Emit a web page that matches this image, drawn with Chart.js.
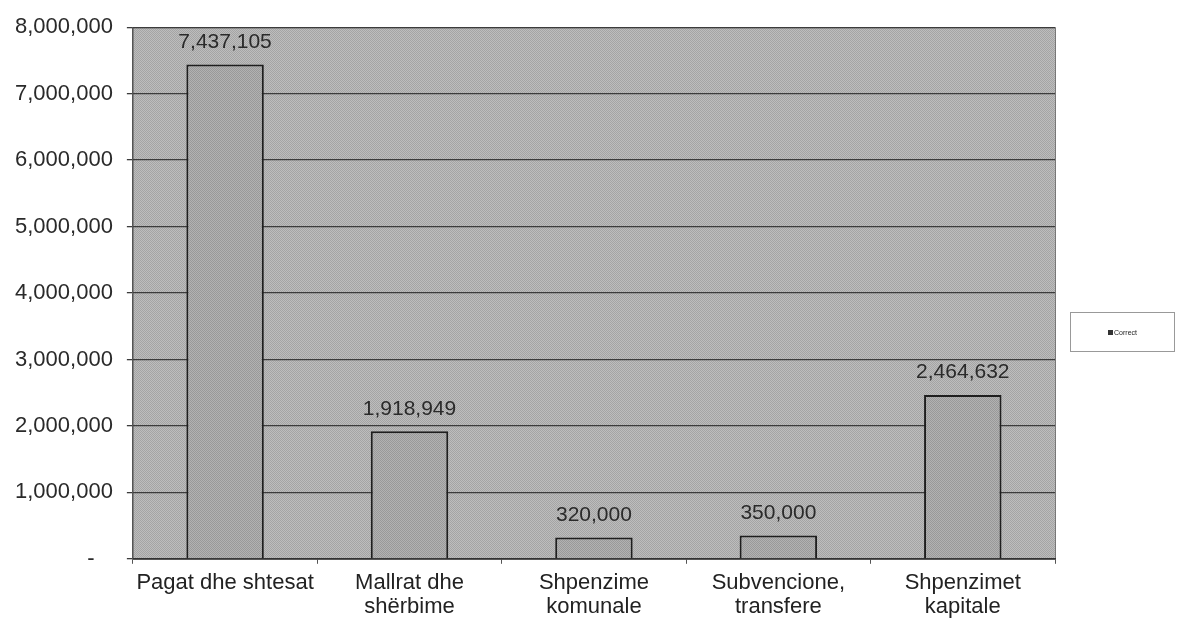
<!DOCTYPE html>
<html>
<head>
<meta charset="utf-8">
<script src="https://cdn.jsdelivr.net/npm/chart.js@4/dist/chart.umd.min.js"></script>
<style>
  body { margin: 0; background: #fff; }
  #wrap { position: relative; width: 1177px; height: 631px; }
  #legend {
    position: absolute; left: 1070px; top: 312px; width: 105px; height: 40px;
    border: 1px solid #999; box-sizing: border-box;
    font: 7px "Liberation Sans", Arial, sans-serif; color: #222;
    display: flex; align-items: center; justify-content: center;
  }
  #legend span.sw { display: inline-block; width: 5px; height: 5px; background: #333; margin-right: 1px; }
</style>
</head>
<body>
<div id="wrap">
  <canvas id="chart" width="1177" height="631"></canvas>
  <div id="legend"><span class="sw"></span>Correct</div>
</div>
<script>
const categories = [
  "Pagat dhe shtesat",
  ["Mallrat dhe", "shërbime"],
  ["Shpenzime", "komunale"],
  ["Subvencione,", "transfere"],
  ["Shpenzimet", "kapitale"]
];
const seriesName = "Correct";
const values = [7437105, 1918949, 320000, 350000, 2464632];
const yTicks = [0, 1000000, 2000000, 3000000, 4000000, 5000000, 6000000, 7000000, 8000000];

const fontFamily = "'Liberation Sans', Arial, sans-serif";

function makePattern(a, b) {
  const c = document.createElement("canvas");
  c.width = 2; c.height = 2;
  const g = c.getContext("2d");
  g.fillStyle = a; g.fillRect(0, 0, 2, 2);
  g.fillStyle = b; g.fillRect(0, 0, 1, 1); g.fillRect(1, 1, 1, 1);
  return document.getElementById("chart").getContext("2d").createPattern(c, "repeat");
}

const plotPattern = makePattern("#bdbdbd", "#a4a4a4");
const barPattern = makePattern("#b2b2b2", "#999999");

const plotBackground = {
  id: "plotBackground",
  beforeDraw(chart) {
    const { ctx, chartArea: a } = chart;
    ctx.save();
    ctx.fillStyle = plotPattern;
    ctx.fillRect(a.left, a.top, a.right - a.left, a.bottom - a.top);
    ctx.strokeStyle = "#777";
    ctx.lineWidth = 1;
    ctx.strokeRect(a.left + 0.5, a.top + 0.5, a.right - a.left, a.bottom - a.top);
    ctx.restore();
  }
};

const valueLabels = {
  id: "valueLabels",
  afterDatasetsDraw(chart) {
    const { ctx } = chart;
    const meta = chart.getDatasetMeta(0);
    ctx.save();
    ctx.font = "21px " + fontFamily;
    ctx.fillStyle = "#2a2a2a";
    ctx.textAlign = "center";
    ctx.textBaseline = "bottom";
    meta.data.forEach((bar, i) => {
      ctx.fillText(values[i].toLocaleString("en-US"), bar.x, bar.y - 12);
    });
    ctx.restore();
  }
};

new Chart(document.getElementById("chart"), {
  type: "bar",
  data: {
    labels: categories,
    datasets: [{
      label: seriesName,
      data: values,
      backgroundColor: barPattern,
      borderColor: "#1e1e1e",
      borderWidth: 2,
      categoryPercentage: 1,
      barPercentage: 0.42
    }]
  },
  options: {
    responsive: false,
    animation: false,
    layout: { padding: { left: 1, right: 122, top: 18, bottom: 5 } },
    plugins: {
      legend: { display: false },
      tooltip: { enabled: false }
    },
    scales: {
      x: {
        grid: { display: true, drawOnChartArea: false, offset: true, color: "#555", tickLength: 5 },
        border: { color: "#333", width: 1.5 },
        ticks: {
          color: "#222",
          font: { family: fontFamily, size: 22, lineHeight: 1.05 },
          maxRotation: 0,
          padding: 8
        }
      },
      y: {
        min: 0,
        max: 8000000,
        afterBuildTicks(axis) { axis.ticks = yTicks.map(v => ({ value: v })); },
        grid: { color: "#3c3c3c", lineWidth: 1.3, tickLength: 6 },
        border: { color: "#555", width: 1 },
        ticks: {
          color: "#2a2a2a",
          font: { family: fontFamily, size: 22 },
          padding: 14,
          callback: v => v === 0 ? "-   " : v.toLocaleString("en-US")
        }
      }
    }
  },
  plugins: [plotBackground, valueLabels]
});
</script>
</body>
</html>
